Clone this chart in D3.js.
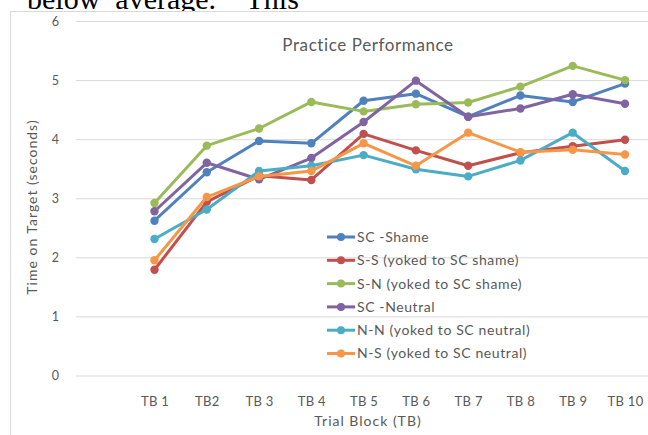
<!DOCTYPE html>
<html>
<head>
<meta charset="utf-8">
<script src="https://d3js.org/d3.v7.min.js"></script>
<style>
body{margin:0;background:white;}
svg{display:block;}
</style>
</head>
<body>
<div id="container"></div>
<script>
var categories=['TB 1','TB2','TB 3','TB 4','TB 5','TB 6','TB 7','TB 8','TB 9','TB 10'];
var seriesNames=['SC -Shame','S-S (yoked to SC shame)','S-N (yoked to SC shame)','SC -Neutral','N-N (yoked to SC neutral)','N-S (yoked to SC neutral)'];
var scShame=[2.62,3.44,3.97,3.93,4.65,4.77,4.38,4.74,4.63,4.94];
var ssShame=[1.79,2.94,3.38,3.31,4.09,3.81,3.55,3.77,3.88,3.99];
var snShame=[2.92,3.89,4.18,4.63,4.47,4.59,4.62,4.89,5.24,5.0];
var scNeutral=[2.78,3.6,3.32,3.68,4.29,4.99,4.38,4.52,4.76,4.6];
var nnNeutral=[2.31,2.81,3.46,3.55,3.73,3.49,3.37,3.64,4.11,3.46];
var nsNeutral=[1.95,3.02,3.37,3.46,3.93,3.55,4.11,3.78,3.82,3.74];
var yTicks=[0,1,2,3,4,5,6];
var colors=['#4F81BD','#C0504D','#9BBB59','#8064A2','#4BACC6','#F79646'];

var allSeries=[scShame,ssShame,snShame,scNeutral,nnNeutral,nsNeutral];

var width=648;
var height=435;
var font='Lato, "Open Sans", sans-serif';
var grey='#595959';

var svg=d3.select('#container')
    .append('svg')
    .attr('width',width)
    .attr('height',height)
    .style('background-color','white');

// bit of the page text above the chart
svg.append('text')
    .attr('x',27)
    .attr('y',9)
    .attr('font-family','"Liberation Serif", "DejaVu Serif", serif')
    .attr('font-size',30)
    .attr('fill','#000')
    .style('white-space','pre')
    .text('below  average.    This');

// chart frame
svg.append('rect')
    .attr('x',10.5)
    .attr('y',11.5)
    .attr('width',width)
    .attr('height',height)
    .attr('fill','white')
    .attr('stroke','#d9d9d9');

var xScale=d3.scalePoint()
    .domain(categories)
    .range([154.5,625]);

var yScale=d3.scaleLinear()
    .domain([0,6])
    .range([375.5,21]);

var y_axis=d3.axisLeft()
    .scale(yScale)
    .tickValues(yTicks)
    .tickFormat(d3.format('d'))
    .tickSize(-(width-76))
    .tickPadding(17);

var yG=svg.append('g')
    .attr('transform','translate(76,0)')
    .call(y_axis);
yG.select('.domain').remove();
yG.selectAll('line').attr('stroke','#d9d9d9');
yG.selectAll('text')
    .attr('fill',grey)
    .attr('font-family',font)
    .attr('font-size',12.5);

var x_axis=d3.axisBottom()
    .scale(xScale)
    .tickSize(0)
    .tickPadding(0);

var xG=svg.append('g')
    .attr('transform','translate(0,397)')
    .call(x_axis);
xG.select('.domain').remove();
xG.selectAll('text')
    .attr('fill',grey)
    .attr('font-family',font)
    .attr('font-size',13)
    .style('letter-spacing','0.3px');

svg.append('text')
    .attr('x',368)
    .attr('y',51)
    .attr('text-anchor','middle')
    .attr('font-family',font)
    .attr('font-size',17)
    .attr('fill',grey)
    .style('letter-spacing','0.6px')
    .text('Practice Performance');

svg.append('text')
    .attr('x',368)
    .attr('y',426)
    .attr('text-anchor','middle')
    .attr('font-family',font)
    .attr('font-size',14)
    .attr('fill',grey)
    .style('letter-spacing','1px')
    .text('Trial Block (TB)');

svg.append('text')
    .attr('transform','translate(37,207) rotate(-90)')
    .attr('text-anchor','middle')
    .attr('font-family',font)
    .attr('font-size',14)
    .attr('fill',grey)
    .style('letter-spacing','1px')
    .text('Time on Target (seconds)');

var line=d3.line()
    .x((d,i)=>xScale(categories[i]))
    .y(d=>yScale(d));

allSeries.forEach(function(s,k){
    var g=svg.append('g');
    g.append('path')
        .attr('d',line(s))
        .attr('fill','none')
        .attr('stroke',colors[k])
        .attr('stroke-width',3)
        .attr('stroke-linejoin','round');
    g.selectAll('circle')
        .data(s)
        .enter()
        .append('circle')
        .attr('cx',(d,i)=>xScale(categories[i]))
        .attr('cy',d=>yScale(d))
        .attr('r',4.2)
        .attr('fill',colors[k]);
});

var legend=svg.append('g')
    .attr('transform','translate(327,237)');

var item=legend.selectAll('g')
    .data(seriesNames)
    .enter()
    .append('g')
    .attr('transform',(d,i)=>'translate(0,'+(i*23.3)+')');

item.append('line')
    .attr('x1',0)
    .attr('x2',28)
    .attr('stroke',(d,i)=>colors[i])
    .attr('stroke-width',3);

item.append('circle')
    .attr('cx',14)
    .attr('r',4)
    .attr('fill',(d,i)=>colors[i]);

item.append('text')
    .attr('x',30)
    .attr('dy','0.35em')
    .attr('font-family',font)
    .attr('font-size',14)
    .attr('fill',grey)
    .style('letter-spacing','0.6px')
    .text(d=>d);
</script>
</body>
</html>
